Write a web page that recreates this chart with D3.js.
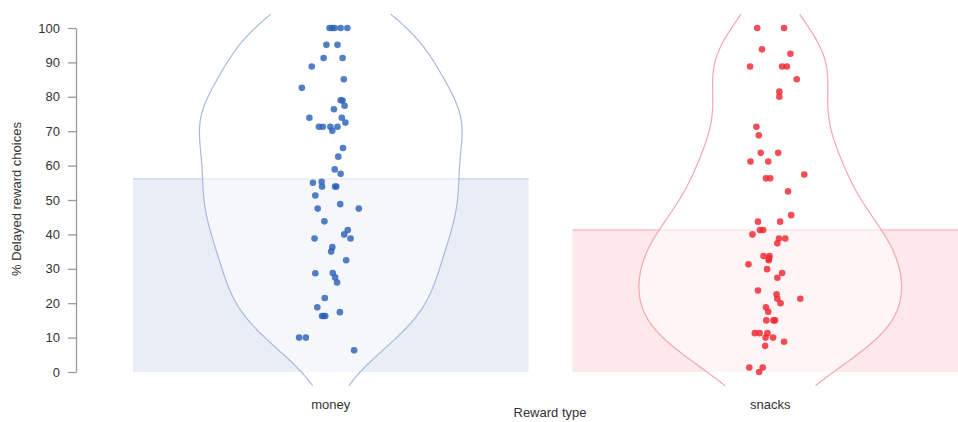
<!DOCTYPE html>
<html>
<head>
<meta charset="utf-8">
<script src="https://cdn.jsdelivr.net/npm/d3@7"></script>
<style>
  html, body { margin: 0; padding: 0; background: #fff; }
  svg { display: block; font-family: "Liberation Sans", Arial, sans-serif; }
</style>
</head>
<body>
<svg id="chart" width="958" height="422"></svg>
<script>
// Reward types on the x axis
const categories = ["money", "snacks"];

// Group means (% delayed reward choices)
const meanValues = [56.4, 41.6];

// Per-participant scores, % delayed reward choices
const moneyValues = [100, 100, 100, 100, 100, 95.1, 95.1, 91.3, 91.3, 88.8, 85.1, 82.6,
  79.0, 78.9, 77.4, 76.4, 73.9, 73.9, 72.5, 71.3, 71.3, 71.3, 71.3, 70.1, 65.1, 62.6,
  58.9, 57.6, 55.0, 55.3, 53.9, 53.9, 53.9, 51.3, 48.8, 47.5, 47.5, 43.8, 41.3, 40.0,
  38.8, 38.8, 36.3, 35.0, 32.5, 28.7, 28.8, 27.5, 26.0, 21.5, 18.8, 17.4, 16.3, 16.3,
  16.3, 10.0, 10.0, 6.3];
// Horizontal jitter, as a fraction of the band width
const moneyJitter = [-0.003, 0.004, 0.010, 0.025, 0.042, -0.011, 0.017, -0.018, 0.030,
  -0.048, 0.033, -0.073, 0.025, 0.030, 0.035, 0.008, -0.054, 0.028, 0.037, -0.030,
  -0.020, -0.001, 0.017, 0.004, 0.031, 0.019, 0.010, 0.025, -0.045, -0.023, -0.022,
  0.011, 0.014, -0.039, 0.024, -0.033, 0.071, -0.016, 0.043, 0.034, 0.050, -0.041,
  0.004, 0.001, 0.039, -0.039, 0.005, 0.011, 0.016, -0.015, -0.034, 0.023, -0.022,
  -0.014, -0.018, -0.080, -0.063, 0.059];

const snacksValues = [100, 100, 93.8, 92.5, 88.8, 88.8, 88.8, 85.1, 81.5, 80.0, 71.3,
  68.8, 63.7, 63.7, 61.2, 61.2, 56.3, 56.3, 57.4, 52.5, 45.6, 43.7, 43.7, 40.0, 41.3,
  41.3, 38.8, 38.8, 37.4, 33.7, 33.7, 32.5, 33.0, 31.3, 29.9, 28.8, 27.4, 23.7, 22.6,
  21.3, 20.0, 21.3, 18.8, 17.5, 15.0, 15.0, 15.0, 11.3, 11.3, 11.3, 10.0, 10.0, 8.8,
  7.6, 1.3, 1.3, 0];
const snacksJitter = [-0.033, 0.035, -0.021, 0.051, -0.051, 0.030, 0.042, 0.067, 0.023,
  0.023, -0.035, -0.029, -0.024, 0.020, -0.050, -0.005, -0.011, 0.000, 0.086, 0.045,
  0.053, -0.031, 0.025, -0.045, -0.026, -0.018, 0.022, 0.038, 0.018, -0.017, -0.002,
  -0.004, -0.003, -0.055, -0.008, 0.030, 0.018, -0.031, 0.016, 0.018, 0.026, 0.076,
  -0.011, -0.005, -0.010, 0.008, 0.012, -0.039, -0.027, -0.007, -0.012, 0.007, 0.035,
  -0.013, -0.053, -0.019, -0.028];

// Axis ticks
const yTicks = [0, 10, 20, 30, 40, 50, 60, 70, 80, 90, 100];
// Range over which the violin densities are evaluated
const violinExtent = [-4, 104];

const groups = [
  { name: categories[0], mean: meanValues[0], values: moneyValues, jitter: moneyJitter,
    bar: "#e9eef6", barEdge: "#d3ddef", violinFill: "rgba(255,255,255,0.55)",
    violinStroke: "#a8b9df", point: "#2c62b9" },
  { name: categories[1], mean: meanValues[1], values: snacksValues, jitter: snacksJitter,
    bar: "#fde8eb", barEdge: "#fbccd2", violinFill: "rgba(255,255,255,0.55)",
    violinStroke: "#f5a6ae", point: "#f0262f" }
];

const svg = d3.select("#chart");

const x = d3.scaleBand()
  .domain(categories)
  .range([111, 990])
  .paddingInner(0.1)
  .paddingOuter(0.05);

const y = d3.scaleLinear().domain([0, 100]).range([372, 28]);

// Gaussian kernel density estimate with R's bw.nrd0 bandwidth
function bwNrd0(v) {
  const sd = d3.deviation(v);
  const s = v.slice().sort(d3.ascending);
  const iqr = d3.quantileSorted(s, 0.75) - d3.quantileSorted(s, 0.25);
  const lo = Math.min(sd, iqr / 1.34);
  return 0.9 * lo * Math.pow(v.length, -0.2);
}
function kde(values, bw, grid) {
  const c = 1 / (Math.sqrt(2 * Math.PI) * bw * values.length);
  return grid.map(t => [t, c * d3.sum(values, v => Math.exp(-0.5 * ((t - v) / bw) ** 2))]);
}
const grid = d3.range(0, 201).map(i => violinExtent[0] + (violinExtent[1] - violinExtent[0]) * i / 200);

// Bars (group means)
groups.forEach(g => {
  svg.append("rect")
    .attr("x", x(g.name))
    .attr("y", y(g.mean))
    .attr("width", x.bandwidth())
    .attr("height", y(0) - y(g.mean))
    .attr("fill", g.bar);
  svg.append("line")
    .attr("x1", x(g.name))
    .attr("x2", x(g.name) + x.bandwidth())
    .attr("y1", y(g.mean) + 1)
    .attr("y2", y(g.mean) + 1)
    .attr("stroke", g.barEdge)
    .attr("stroke-width", 2);
});

// Violins, each scaled to the same maximum width
groups.forEach(g => {
  const dens = kde(g.values, bwNrd0(g.values), grid);
  const w = d3.scaleLinear()
    .domain([0, d3.max(dens, d => d[1])])
    .range([0, x.bandwidth() * 0.332]);
  const cx = x(g.name) + x.bandwidth() / 2;
  const area = d3.area()
    .y(d => y(d[0]))
    .x0(d => cx - w(d[1]))
    .x1(d => cx + w(d[1]))
    .curve(d3.curveBasis);
  svg.append("path").datum(dens).attr("d", area).attr("fill", g.violinFill);
  [-1, 1].forEach(side => {
    const line = d3.line()
      .y(d => y(d[0]))
      .x(d => cx + side * w(d[1]))
      .curve(d3.curveBasis);
    svg.append("path").datum(dens).attr("d", line)
      .attr("fill", "none")
      .attr("stroke", g.violinStroke)
      .attr("stroke-width", 1.2);
  });
});

// Jittered points
groups.forEach(g => {
  const cx = x(g.name) + x.bandwidth() / 2;
  svg.append("g").selectAll("circle")
    .data(g.values.map((v, i) => ({ v, j: g.jitter[i] })))
    .join("circle")
    .attr("cx", d => cx + d.j * x.bandwidth())
    .attr("cy", d => y(d.v))
    .attr("r", 3.3)
    .attr("fill", g.point)
    .attr("fill-opacity", 0.82);
});

// Y axis
const yAxis = d3.axisLeft(y).tickValues(yTicks).tickSize(8).tickSizeOuter(0).tickPadding(8);
const ya = svg.append("g").attr("transform", "translate(76,0)").call(yAxis);
ya.select(".domain").attr("stroke", "#9a9a9a").attr("stroke-width", 1.3);
ya.selectAll(".tick line").attr("stroke", "#9a9a9a").attr("stroke-width", 1.3);
ya.selectAll(".tick text").attr("fill", "#333").style("font-size", "13px")
  .style("font-family", "'Liberation Sans', Arial, sans-serif");

// X category labels
svg.append("g").selectAll("text")
  .data(categories)
  .join("text")
  .attr("x", d => x(d) + x.bandwidth() / 2)
  .attr("y", 409)
  .attr("text-anchor", "middle")
  .attr("fill", "#333")
  .style("font-size", "13px")
  .text(d => d);

// Axis titles
svg.append("text")
  .attr("x", 550)
  .attr("y", 417)
  .attr("text-anchor", "middle")
  .attr("fill", "#333")
  .style("font-size", "13px")
  .text("Reward type");

svg.append("text")
  .attr("transform", "translate(21,199) rotate(-90)")
  .attr("text-anchor", "middle")
  .attr("fill", "#333")
  .style("font-size", "13px")
  .text("% Delayed reward choices");
</script>
</body>
</html>
